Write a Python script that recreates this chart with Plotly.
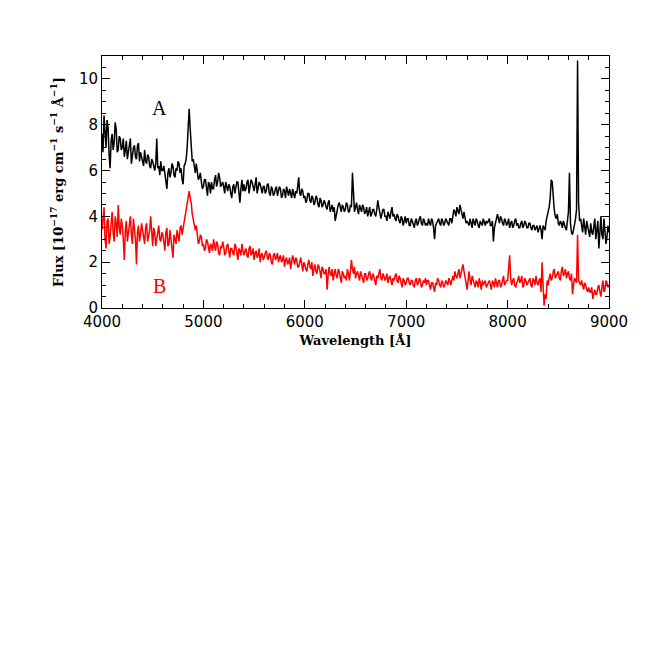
import numpy as np
import plotly.graph_objects as go

# wavelength grid (Angstrom): samples every 10 A from 4000 to 9000
wave_start = 4000
wave_step = 10
n_pts = 501

# spectrum A (black), 10**-17 erg cm-1 s-1 A-1
# flux at 4000, 4020, ... 9000 (one row per 200 A)
flux_a_even = [
    7.6, 8.4, 7.0, 7.9, 6.1, 7.6, 7.2, 7.8, 6.9, 7.4,
    7.0, 6.6, 7.3, 6.8, 7.4, 6.7, 7.1, 6.5, 7.2, 6.8,
    6.5, 6.9, 6.3, 6.6, 6.1, 6.4, 6.0, 7.4, 6.2, 6.4,
    6.0, 5.8, 5.2, 6.1, 5.9, 6.2, 5.7, 6.0, 6.3, 6.1,
    5.4, 6.3, 7.0, 8.7, 6.9, 6.5, 5.9, 6.0, 5.7, 5.5,
    5.3, 5.6, 4.9, 5.4, 5.5, 5.2, 5.8, 5.5, 5.7, 5.4,
    5.3, 5.5, 5.1, 5.3, 4.8, 5.4, 5.2, 5.5, 4.6, 5.6,
    5.4, 5.2, 5.6, 5.3, 5.5, 5.1, 5.7, 5.2, 5.4, 5.0,
    5.3, 5.1, 5.4, 4.9, 5.2, 5.0, 5.3, 5.1, 5.2, 4.9,
    5.1, 5.3, 4.9, 5.0, 5.2, 4.8, 5.0, 5.7, 4.9, 5.1,
    4.9, 4.7, 5.0, 4.6, 4.8, 4.6, 4.8, 4.4, 4.7, 4.5,
    4.6, 4.3, 4.7, 4.4, 4.2, 3.8, 4.3, 4.6, 4.2, 4.4,
    4.3, 4.5, 4.2, 4.4, 4.7, 4.4, 4.3, 4.5, 4.2, 4.4,
    4.2, 4.0, 4.4, 4.1, 4.3, 4.0, 4.7, 4.2, 4.1, 4.3,
    4.0, 4.2, 3.9, 4.4, 4.1, 3.8, 4.0, 3.7, 3.9, 3.8,
    3.7, 3.9, 3.6, 3.8, 3.5, 3.9, 3.7, 4.0, 3.6, 3.8,
    3.7, 3.9, 3.6, 3.8, 3.0, 3.7, 3.9, 3.6, 3.8, 3.7,
    3.8, 3.6, 3.9, 4.0, 4.2, 4.4, 4.1, 4.3, 3.9, 4.0,
    3.8, 3.6, 3.7, 3.9, 3.6, 3.8, 3.5, 3.7, 3.9, 3.6,
    3.7, 3.9, 3.6, 2.9, 3.8, 4.1, 3.7, 3.9, 3.6, 3.8,
    3.7, 3.5, 3.8, 3.6, 3.9, 3.7, 3.5, 3.8, 3.6, 3.7,
    3.5, 3.7, 3.4, 3.6, 3.5, 3.3, 3.6, 3.0, 3.5, 3.8,
    4.2, 4.8, 5.5, 4.3, 3.9, 3.7, 3.8, 3.5, 3.6, 3.4,
    4.2, 3.7, 3.2, 3.6, 4.3, 4.6, 3.9, 3.3, 3.5, 3.8,
    3.4, 3.7, 3.2, 3.9, 3.3, 2.6, 4.0, 3.0, 3.5, 3.1,
    3.3,
]
# flux at 4010, 4030, ... 8990
flux_a_mid = [
    6.8, 7.3, 8.2, 6.7, 7.3, 6.9, 8.1, 6.8, 7.5, 6.9,
    7.4, 6.9, 6.5, 7.2, 6.3, 7.0, 6.6, 7.1, 6.4, 6.6,
    6.2, 6.4, 6.7, 6.2, 6.5, 6.1, 6.3, 6.1, 5.8, 6.0,
    6.2, 5.6, 5.9, 5.7, 6.3, 5.8, 6.1, 6.4, 5.9, 5.6,
    6.2, 6.5, 7.9, 7.8, 6.4, 6.1, 6.3, 5.6, 5.9, 5.2,
    5.6, 5.1, 5.5, 5.0, 5.2, 5.6, 5.3, 5.9, 5.3, 5.5,
    5.0, 5.2, 5.4, 5.0, 5.3, 5.0, 5.5, 5.1, 5.2, 5.1,
    5.1, 5.5, 5.0, 5.6, 5.2, 5.4, 5.0, 5.5, 5.1, 5.3,
    5.0, 5.4, 5.0, 5.3, 4.9, 5.2, 4.9, 5.3, 4.8, 5.2,
    4.8, 5.0, 5.2, 4.8, 4.9, 5.1, 5.3, 5.0, 5.2, 4.8,
    4.6, 5.0, 4.7, 4.9, 4.5, 4.9, 4.5, 4.8, 4.4, 4.7,
    4.4, 4.6, 4.2, 4.5, 4.4, 4.1, 4.5, 4.3, 4.5, 4.2,
    4.6, 4.2, 4.5, 5.9, 4.2, 4.6, 4.1, 4.3, 4.5, 4.1,
    4.4, 4.2, 4.0, 4.3, 4.1, 4.3, 4.4, 3.9, 4.3, 4.0,
    3.8, 4.0, 4.2, 4.0, 3.9, 4.1, 3.8, 4.0, 3.6, 4.0,
    3.9, 3.6, 3.9, 3.6, 3.8, 3.6, 3.9, 3.7, 3.9, 3.6,
    3.6, 3.7, 3.9, 3.5, 3.6, 3.8, 3.7, 3.9, 3.6, 3.9,
    3.7, 3.9, 3.7, 4.3, 4.0, 4.2, 4.5, 4.0, 4.2, 3.7,
    3.7, 3.9, 3.5, 3.7, 3.9, 3.6, 3.8, 3.6, 3.7, 3.8,
    3.8, 3.6, 3.8, 3.5, 3.9, 3.8, 4.0, 3.7, 3.9, 3.6,
    3.9, 3.7, 3.5, 3.8, 3.6, 3.5, 3.7, 3.5, 3.8, 3.5,
    3.7, 3.5, 3.6, 3.4, 3.6, 3.5, 3.4, 3.6, 3.4, 4.0,
    4.4, 5.6, 4.6, 4.0, 4.1, 3.6, 3.7, 3.8, 3.5, 3.7,
    5.9, 3.3, 3.4, 3.9, 10.8, 3.8, 3.6, 3.9, 3.2, 3.5,
    3.1, 3.3, 3.6, 3.0, 3.8, 3.6, 3.2, 3.9, 2.8, 3.6,
]

# spectrum B (red)
flux_b_even = [
    3.4, 4.4, 2.6, 3.9, 3.1, 4.2, 2.9, 3.7, 4.5, 3.2,
    3.6, 2.1, 3.8, 3.3, 4.0, 2.8, 3.5, 1.9, 3.6, 3.2,
    3.4, 2.8, 3.7, 3.1, 4.0, 2.7, 3.3, 3.0, 3.6, 2.9,
    3.2, 2.5, 3.5, 2.8, 3.1, 2.2, 3.0, 3.4, 2.9, 3.6,
    3.5, 3.9, 4.5, 5.1, 4.6, 3.8, 3.4, 3.2, 2.9, 3.1,
    2.8, 2.6, 2.9, 2.4, 2.7, 3.0, 2.5, 2.8, 2.3, 2.6,
    2.7, 2.4, 2.8, 2.2, 2.6, 2.3, 2.7, 2.1, 2.5, 2.8,
    2.3, 2.6, 2.2, 2.7, 2.4, 2.1, 2.5, 2.3, 2.0, 2.4,
    2.2, 2.5, 2.1, 2.3, 1.9, 2.4, 2.2, 2.0, 2.3, 2.1,
    1.8, 2.2, 2.0, 1.7, 2.3, 1.9, 2.1, 1.8, 2.2, 1.6,
    1.9, 1.6, 2.1, 1.7, 1.4, 1.9, 1.5, 1.8, 1.3, 1.7,
    1.5, 0.8, 1.8, 1.4, 1.2, 1.7, 1.3, 1.6, 1.1, 1.5,
    1.4, 1.7, 1.2, 2.1, 1.5, 1.3, 1.6, 1.2, 1.4, 1.1,
    1.5, 1.3, 1.6, 1.2, 1.4, 1.0, 1.3, 1.7, 1.2, 1.4,
    1.3, 1.1, 1.4, 1.0, 1.2, 1.5, 1.1, 1.3, 0.9, 1.2,
    1.1, 1.3, 1.0, 1.2, 0.9, 1.3, 1.1, 1.2, 1.0, 1.1,
    1.0, 1.2, 0.8, 1.1, 0.7, 1.0, 1.2, 0.9, 1.1, 1.0,
    1.1, 1.3, 1.0, 1.4, 1.6, 1.3, 1.7, 1.5, 1.9, 1.4,
    0.8, 1.6, 1.0, 1.2, 0.9, 1.1, 1.3, 0.8, 1.0, 1.2,
    1.0, 1.2, 0.8, 1.1, 1.3, 0.9, 1.2, 1.0, 1.4, 1.1,
    1.2, 2.3, 1.0, 1.3, 0.9, 1.2, 1.1, 1.4, 1.0, 1.2,
    1.1, 1.3, 0.9, 1.2, 1.4, 1.0, 1.3, 2.0, 0.1, 0.4,
    1.0, 1.5, 1.3, 1.7, 1.4, 1.6, 1.2, 1.8, 1.5, 1.3,
    1.6, 1.2, 0.6, 1.3, 1.1, 1.2, 1.0, 0.9, 1.1, 0.8,
    0.9, 0.7, 0.4, 0.8, 0.6, 1.0, 0.5, 1.2, 0.8, 1.1,
    1.0,
]
flux_b_mid = [
    4.1, 3.0, 3.8, 2.8, 3.7, 3.3, 4.0, 3.1, 3.5, 3.9,
    3.0, 3.4, 2.9, 3.7, 3.2, 3.9, 3.0, 3.3, 2.9, 3.7,
    3.1, 3.5, 2.9, 3.4, 3.0, 3.5, 2.7, 3.3, 3.0, 3.3,
    2.9, 3.3, 2.7, 3.4, 2.6, 3.2, 2.8, 3.1, 3.5, 3.2,
    3.8, 4.2, 4.9, 4.8, 4.1, 3.5, 3.6, 2.8, 3.2, 2.7,
    2.5, 3.0, 2.6, 2.8, 2.5, 2.7, 2.9, 2.4, 2.7, 2.9,
    2.3, 2.7, 2.5, 2.6, 2.4, 2.8, 2.4, 2.6, 2.3, 2.5,
    2.5, 2.3, 2.6, 2.3, 2.6, 2.4, 2.2, 2.6, 2.3, 2.1,
    2.4, 2.2, 2.4, 2.0, 2.3, 2.1, 2.4, 2.2, 2.0, 2.3,
    2.1, 1.9, 2.2, 2.0, 2.1, 2.2, 1.8, 2.0, 1.9, 2.0,
    1.7, 1.9, 1.8, 2.0, 1.7, 1.6, 1.9, 1.6, 1.8, 1.5,
    1.7, 1.4, 1.5, 1.7, 1.5, 1.4, 1.7, 1.3, 1.6, 1.3,
    1.2, 1.5, 1.6, 1.7, 1.8, 1.5, 1.4, 1.6, 1.2, 1.5,
    1.2, 1.5, 1.3, 1.5, 1.2, 1.4, 1.5, 1.3, 1.5, 1.2,
    1.5, 1.3, 1.2, 1.3, 1.4, 1.2, 1.4, 1.1, 1.3, 1.0,
    1.3, 1.1, 1.2, 1.0, 1.2, 1.0, 1.3, 0.9, 1.2, 1.3,
    1.2, 1.0, 1.1, 0.9, 1.1, 1.3, 1.0, 1.2, 0.9, 1.2,
    1.0, 1.2, 1.3, 1.2, 1.4, 1.5, 1.3, 1.7, 1.6, 1.1,
    1.3, 1.2, 1.4, 1.0, 1.2, 0.9, 1.1, 1.2, 1.1, 0.9,
    1.1, 1.0, 1.2, 0.9, 1.1, 1.2, 0.9, 1.2, 1.0, 1.2,
    1.6, 1.3, 1.2, 1.0, 1.1, 1.4, 1.2, 0.9, 1.3, 1.0,
    1.2, 1.0, 1.3, 1.0, 1.1, 1.2, 0.7, 1.0, 0.6, 1.2,
    1.3, 1.2, 1.6, 1.3, 1.5, 1.3, 1.6, 1.4, 1.7, 1.5,
    1.3, 1.5, 1.0, 1.2, 3.2, 1.1, 1.2, 0.8, 1.0, 0.7,
    0.7, 0.9, 0.7, 0.6, 0.9, 0.7, 0.9, 0.7, 1.2, 0.9,
]

wave = wave_start + wave_step * np.arange(n_pts)


def merge(even, mid):
    out = np.empty(len(even) + len(mid))
    out[0::2] = even
    out[1::2] = mid
    return out


flux_a = merge(flux_a_even, flux_a_mid)
flux_b = merge(flux_b_even, flux_b_mid)

tick_font = "DejaVu Sans"
title_font = "DejaVu Serif"

fig = go.Figure()
fig.add_trace(go.Scatter(x=wave, y=flux_a, mode="lines",
                         line=dict(color="black", width=1.5), showlegend=False))
fig.add_trace(go.Scatter(x=wave, y=flux_b, mode="lines",
                         line=dict(color="red", width=1.5), showlegend=False))

fig.add_annotation(x=4570, y=8.75, text="A", showarrow=False,
                   font=dict(family="Liberation Serif", size=20, color="black"))
fig.add_annotation(x=4570, y=0.95, text="B", showarrow=False,
                   font=dict(family="Liberation Serif", size=20, color="red"))

axis_common = dict(
    showgrid=False, zeroline=False, showline=True, linecolor="black", linewidth=1,
    mirror="allticks", ticks="inside", ticklen=8, tickwidth=1, tickcolor="black",
    tickfont=dict(family=tick_font, size=15, color="black"),
)

fig.update_xaxes(
    range=[4000, 9000], dtick=1000, tick0=4000,
    minor=dict(dtick=200, ticks="inside", ticklen=4, tickcolor="black"),
    title=dict(text="<b>Wavelength [Å]</b>", standoff=5,
               font=dict(family=title_font, size=13, color="black")),
    **axis_common)
fig.update_yaxes(
    range=[0, 11], dtick=2, tick0=0,
    minor=dict(dtick=0.5, ticks="inside", ticklen=4, tickcolor="black"),
    title=dict(text="<b>Flux [10<sup>−17</sup> erg cm<sup>−1</sup> s<sup>−1</sup> Å<sup>−1</sup>]</b>",
               standoff=12, font=dict(family=title_font, size=13, color="black")),
    **axis_common)

# the page adds an 8 px body margin, so the figure is drawn 8 px smaller
fig.update_layout(
    width=656, height=656,
    margin=dict(l=94, r=55, t=48, b=356),
    plot_bgcolor="white", paper_bgcolor="white",
)

fig.write_html("out.html")
